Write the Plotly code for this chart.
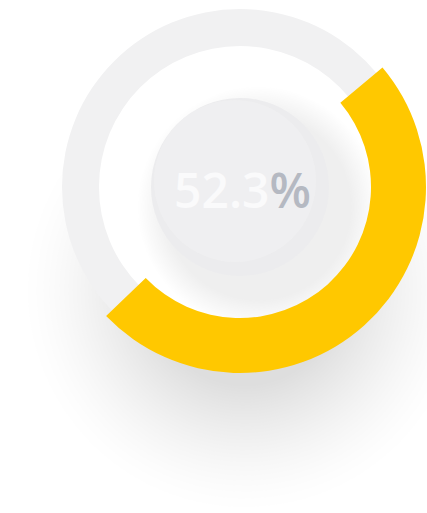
import plotly.graph_objects as go

# ---- data ----
value_pct = 52.3                 # centre label
arc_shares = [48.9, 51.1]        # filled arc vs remaining (share of full circle)
arc_start_deg = 50               # arc starts ~50 deg clockwise from 12 o'clock
track_shares = [100]

# ---- geometry (pixels) ----
W, H = 427, 513
CX, CY = 240, 187
R_ARC_OUT, R_ARC_IN = 186, 131
R_TRACK_OUT, R_TRACK_IN = 178, 141
R_CORE = 89

def dom(r):
    return dict(x=[(CX - r) / W, (CX + r) / W], y=[(H - CY - r) / H, (H - CY + r) / H])

def circ(cx, cy, r, color, op=1.0):
    return dict(type="circle", xref="paper", yref="paper", layer="below",
                x0=(cx - r) / W, x1=(cx + r) / W,
                y0=(H - cy - r) / H, y1=(H - cy + r) / H,
                fillcolor=color, opacity=op, line=dict(width=0))

shapes = []
# soft drop shadow beneath the ring (stack of faint discs, denser towards the middle)
n = 33
for i in range(n):
    r = 95 + 130 * (1 - ((i + 0.5) / n) ** (1 / 1.5))
    shapes.append(circ(245, 290, r, "#9a9ab0", 0.01))
# white face inside the track
shapes.append(circ(CX, CY, R_TRACK_IN + 1, "#ffffff"))
# subtle shadow of the core disc (towards lower right)
m = 16
for i in range(m):
    r = 120 - i * (28 / m)
    shapes.append(circ(CX + 18, CY + 20, r, "#a4a4bc", 0.01))
# core disc
shapes.append(circ(CX, CY, R_CORE, "#ececee"))
shapes.append(circ(CX - 5, CY - 6, R_CORE - 8, "#f6f6f7", 0.35))

fig = go.Figure()
fig.add_trace(go.Pie(
    values=track_shares, hole=R_TRACK_IN / R_TRACK_OUT, domain=dom(R_TRACK_OUT),
    marker=dict(colors=["#f1f1f2"], line=dict(width=0)),
    textinfo="none", hoverinfo="skip", sort=False, showlegend=False))
fig.add_trace(go.Pie(
    values=arc_shares, hole=R_ARC_IN / R_ARC_OUT, domain=dom(R_ARC_OUT),
    marker=dict(colors=["#ffc800", "rgba(0,0,0,0)"], line=dict(width=0)),
    rotation=arc_start_deg, direction="clockwise",
    textinfo="none", hoverinfo="skip", sort=False, showlegend=False))

fig.add_annotation(
    x=(CX + 3) / W, y=(H - CY - 2) / H, xref="paper", yref="paper",
    xanchor="center", yanchor="middle", showarrow=False,
    text=f"{value_pct}<span style='color:#b5b9c2'>%</span>",
    font=dict(family="Open Sans", size=48, color="#fafafb", weight=600))

fig.update_layout(
    width=W, height=H, margin=dict(l=0, r=0, t=0, b=0),
    paper_bgcolor="#ffffff", plot_bgcolor="#ffffff", shapes=shapes)

fig.write_html("out.html")
